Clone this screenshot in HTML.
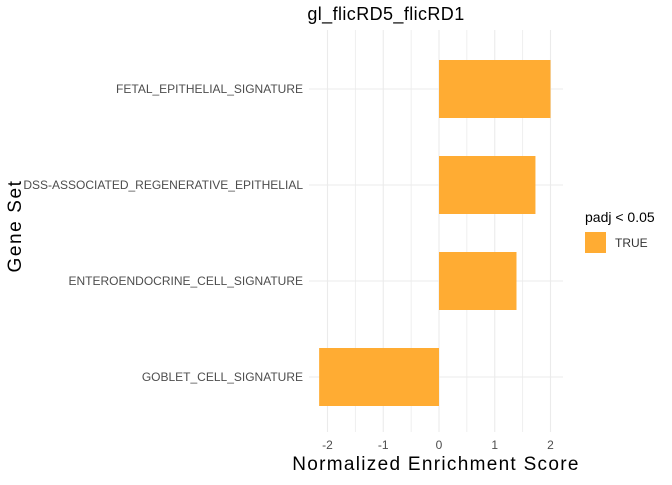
<!DOCTYPE html>
<html><head><meta charset="utf-8"><style>
body{margin:0;background:#fff;}
svg text{font-family:"Liberation Sans",sans-serif;}
</style></head><body>
<svg width="672" height="480" xmlns="http://www.w3.org/2000/svg">
<g id="grid"></g>
<g id="bars"></g>
<g id="ylabels"></g>
<g id="xlabels"></g>
<text x="386" y="20" font-size="18" text-anchor="middle" fill="#000" letter-spacing="0.4">gl_flicRD5_flicRD1</text>
<text x="436" y="470" font-size="19" text-anchor="middle" fill="#000" letter-spacing="1.3">Normalized Enrichment Score</text>
<text transform="translate(21,226) rotate(-90)" font-size="19" text-anchor="middle" fill="#000" letter-spacing="1.6">Gene Set</text>
<text x="585" y="222" font-size="14" fill="#000">padj &lt; 0.05</text>
<rect x="585" y="232" width="21" height="21" fill="#FFAC33"/>
<text x="615" y="247" font-size="12" fill="#333">TRUE</text>
</svg>
<script>
const categories=["FETAL_EPITHELIAL_SIGNATURE","DSS-ASSOCIATED_REGENERATIVE_EPITHELIAL","ENTEROENDOCRINE_CELL_SIGNATURE","GOBLET_CELL_SIGNATURE"];
const nesValues=[2.0,1.73,1.39,-2.15];
const xTicks=[-2,-1,0,1,2];
const NS="http://www.w3.org/2000/svg";
const x=v=>439+v*55.75;
const y=i=>89+i*96;
function mk(tag,attrs,parent){const e=document.createElementNS(NS,tag);for(const k in attrs)e.setAttribute(k,attrs[k]);parent.appendChild(e);return e;}
const grid=document.getElementById('grid');
for(let v=-2;v<=2.001;v+=0.5){const l=mk('line',{x1:x(v),x2:x(v),y1:30,y2:432,stroke:'#ebebeb','stroke-width':Number.isInteger(v)?1.1:0.8},grid);

}
categories.forEach((c,i)=>{const l=mk('line',{x1:309,x2:563,y1:y(i),y2:y(i),stroke:'#ebebeb','stroke-width':1.1},grid);

});
const bars=document.getElementById('bars');
nesValues.forEach((v,i)=>{const r=mk('rect',{x:Math.min(x(0),x(v)),y:y(i)-29,width:Math.abs(x(v)-x(0)),height:58,fill:'#FFAC33'},bars);

});
const yl=document.getElementById('ylabels');
categories.forEach((c,i)=>{const t=mk('text',{x:303,y:y(i)+4,'font-size':12,'text-anchor':'end',fill:'#4d4d4d'},yl);t.textContent=c;

});
const xl=document.getElementById('xlabels');
xTicks.forEach(v=>{const t=mk('text',{x:x(v),y:449,'font-size':12,'text-anchor':'middle',fill:'#4d4d4d'},xl);t.textContent=v;

});
</script>
</body></html>
